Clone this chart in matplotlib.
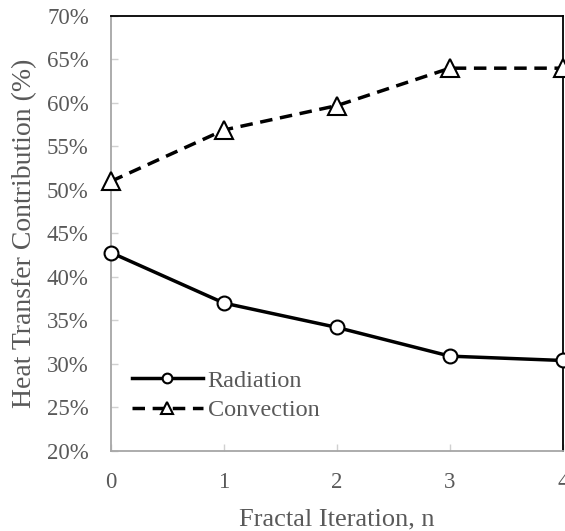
import matplotlib
matplotlib.use("Agg")
import matplotlib.pyplot as plt
from matplotlib.ticker import PercentFormatter

# heat transfer share by fractal iteration
iterations = [0, 1, 2, 3, 4]
radiation = [42.8, 37.0, 34.2, 30.9, 30.4]
convection = [51.0, 56.9, 59.7, 64.0, 64.0]

GRAY = "#595959"
AXIS_GRAY = "#A6A6A6"

plt.rcParams["font.family"] = ["Liberation Serif", "DejaVu Serif"]
plt.rcParams["font.size"] = 16

fig = plt.figure(figsize=(5.65, 5.31), dpi=100)
ax = fig.add_axes([0.1965, 0.1507, 0.7999, 0.8192])

ax.plot(iterations, radiation, color="black", lw=2.5, marker="o", ms=10,
        mfc="white", mec="black", mew=1.5, label="Radiation",
        clip_on=False, zorder=3)
ax.plot(iterations, convection, color="black", lw=2.5, ls=(0, (3.6, 2.2)),
        marker="^", ms=13, mfc="white", mec="black", mew=1.5,
        label="Convection", clip_on=False, zorder=3)

ax.set_xlim(0, 4)
ax.set_ylim(20, 70)
ax.set_xticks(iterations)
ax.set_yticks(range(20, 71, 5))
ax.yaxis.set_major_formatter(PercentFormatter(decimals=0))

for side in ("left", "bottom"):
    ax.spines[side].set_color(AXIS_GRAY)
    ax.spines[side].set_linewidth(1.3)
for side in ("top", "right"):
    ax.spines[side].set_color("black")
    ax.spines[side].set_linewidth(1.3)

ax.tick_params(direction="in", length=5, width=1, color="#D0D0D0",
               labelcolor=GRAY, labelsize=16.5)
ax.tick_params(axis="x", pad=15)
ax.tick_params(axis="y", pad=16)

ax.set_xlabel("Fractal Iteration, n", color=GRAY, fontsize=19, labelpad=11)
ax.set_ylabel("Heat Transfer Contribution (%)", color=GRAY, fontsize=20,
              labelpad=7)

leg = ax.legend(loc="lower left", bbox_to_anchor=(0.02, 0.04), frameon=False,
                handlelength=2.9, handletextpad=0.2, labelspacing=0.32,
                borderpad=0, markerscale=0.7, fontsize=17.5)
for t in leg.get_texts():
    t.set_color(GRAY)

fig.savefig("out.png", dpi=100)
